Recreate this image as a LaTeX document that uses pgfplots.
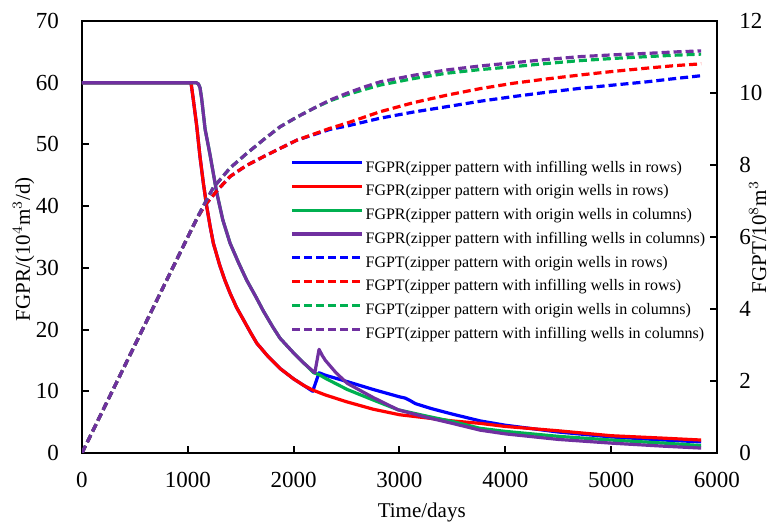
\documentclass[border=0pt]{standalone}
\usepackage{pgfplots}
\pgfplotsset{compat=1.18}
\usepackage{fontspec}
\setmainfont{Liberation Serif}
\definecolor{cblue}{RGB}{0,0,255}
\definecolor{cred}{RGB}{255,0,0}
\definecolor{cgreen}{RGB}{0,176,80}
\definecolor{cpurple}{RGB}{112,48,160}
\pgfplotsset{
  common/.style={
    scale only axis, width=317.5pt, height=216pt,
    xmin=0, xmax=6000,
    tick align=inside, major tick length=3.5pt,
    axis line style={line width=1pt}, every tick/.style={line width=1pt, black},
    /pgf/number format/assume math mode=true,
    /pgf/number format/1000 sep={},
    tick label style={font=\fontsize{11.5}{12}\selectfont},
    label style={font=\fontsize{10.5}{12}\selectfont},
  },
  solid/.style={line width=1.6pt, line join=round},
  dashedl/.style={line width=1.6pt, dash pattern=on 4pt off 2pt},
}
\begin{document}
\begin{tikzpicture}
\begin{axis}[common,
  ymin=0, ymax=70, ytick={0,10,...,70},
  xtick={0,1000,...,6000},
  xtick pos=lower, ytick pos=left,
  xticklabel style={yshift=-6pt},
  yticklabel style={xshift=-8pt},
  xlabel={Time/days},
  xlabel style={at={(axis description cs:0.535,-0.1366)}, anchor=center},
  ylabel={FGPR/(10$^{4}$m$^{3}$/d)},
  ylabel style={at={(axis description cs:-0.092,0.472)}, anchor=center},
  legend style={at={(axis description cs:0.3276,0.682)}, anchor=north west,
    draw=none, fill=none, inner sep=0pt, row sep=2.8pt,
    nodes={inner sep=1pt}, font=\fontsize{8}{9}\selectfont},
  legend cell align=left,
  legend image code/.code={\draw[#1] (0pt,2.6pt) -- (35pt,2.6pt);},
]
% FGPR infilling rows (blue)
\addplot[cblue, solid] coordinates {
(0,60) (1030,60) (1050,57.5) (1084,53) (1115,48) (1147,43.7) (1178,40) (1210,36.8) (1241,34) (1300,30.5) (1350,28) (1399,25.9) (1460,23.6) (1525,21.6) (1590,19.6) (1651,17.8) (1760,15.6) (1871,13.7) (2000,12.0) (2100,10.9) (2180,10.0)
(2240,13.0) (2300,12.6) (2500,11.6) (2750,10.3) (3000,9.1) (3053,8.9) (3100,8.5) (3150,8.0) (3300,7.2) (3500,6.3) (3762,5.2) (4000,4.5) (4500,3.4) (5000,2.6) (5500,2.1) (5850,1.8)};
\addlegendentry{FGPR(zipper pattern with infilling wells in rows)}
% FGPR origin rows (red)
\addplot[cred, solid] coordinates {
(0,60) (1030,60) (1050,57.5) (1084,53) (1115,48) (1147,43.7) (1178,40) (1210,36.8) (1241,34) (1300,30.5) (1350,28) (1399,25.9) (1460,23.6) (1525,21.6) (1590,19.6) (1651,17.8) (1760,15.6) (1871,13.7) (2000,12.0) (2100,10.9) (2180,10.2)
(2300,9.4) (2500,8.3) (2750,7.1) (3000,6.2) (3250,5.7) (3500,5.2) (3762,4.8) (4000,4.3) (4500,3.6) (5000,2.8) (5500,2.4) (5850,2.1)};
\addlegendentry{FGPR(zipper pattern with origin wells in rows)}
% FGPR origin columns (green)
\addplot[cgreen, solid] coordinates {
(0,60) (1080,60) (1100,59.8) (1115,59.2) (1130,57.5) (1163,52.5) (1210,48.3) (1241,45.3) (1273,42.2) (1330,37.8) (1399,34) (1480,30.8) (1556,28) (1640,25.4) (1714,23.0) (1800,20.5) (1871,18.6) (2000,16.2) (2100,14.5) (2190,13.0)
(2240,12.7) (2300,12.1) (2505,10.3) (2750,8.6) (2987,7.0) (3250,6.0) (3500,5.1) (3762,4.0) (4000,3.5) (4500,2.7) (5000,2.1) (5500,1.6) (5850,1.2)};
\addlegendentry{FGPR(zipper pattern with origin wells in columns)}
% FGPR infilling columns (purple)
\addplot[cpurple, solid] coordinates {
(0,60) (1080,60) (1100,59.8) (1115,59.2) (1130,57.5) (1163,52.5) (1210,48.3) (1241,45.3) (1273,42.2) (1330,37.8) (1399,34) (1480,30.8) (1556,28) (1640,25.4) (1714,23.0) (1800,20.5) (1871,18.6) (2000,16.2) (2100,14.5) (2200,13.0)
(2240,16.8) (2270,15.8) (2300,15.0) (2400,13.0) (2505,11.3) (2750,9.0) (2987,7.0) (3250,5.8) (3500,4.8) (3762,3.7) (4000,3.1) (4500,2.2) (5000,1.6) (5500,1.1) (5850,0.8)};
\addlegendentry{FGPR(zipper pattern with infilling wells in columns)}
\addlegendimage{cblue, dashedl}
\addlegendentry{FGPT(zipper pattern with origin wells in rows)}
\addlegendimage{cred, dashedl}
\addlegendentry{FGPT(zipper pattern with infilling wells in rows)}
\addlegendimage{cgreen, dashedl}
\addlegendentry{FGPT(zipper pattern with origin wells in columns)}
\addlegendimage{cpurple, dashedl}
\addlegendentry{FGPT(zipper pattern with infilling wells in columns)}
\end{axis}
\begin{axis}[common,
  ymin=0, ymax=12, ytick={0,2,...,12},
  axis x line=none, axis y line*=right,
  yticklabel style={xshift=7.7pt},
  ylabel={FGPT/10$^{8}$m$^{3}$},
  ylabel style={at={(axis description cs:1.064,0.5)}, anchor=center},
]
\addplot[cblue, dashedl] coordinates {
(0,0) (1030,6.18) (1084,6.5) (1130,6.73) (1178,6.94) (1280,7.3) (1399,7.68) (1550,7.98) (1714,8.23) (1871,8.46) (2030,8.69) (2344,8.99) (2500,9.08) (2817,9.30) (3130,9.47) (3447,9.62) (3760,9.77) (4074,9.90) (4390,10.02) (4707,10.13) (5020,10.22) (5337,10.31) (5600,10.40) (5850,10.48)};
\addplot[cred, dashedl] coordinates {
(0,0) (1030,6.18) (1084,6.5) (1130,6.73) (1178,6.94) (1280,7.3) (1399,7.68) (1550,7.98) (1714,8.23) (1871,8.46) (2030,8.69) (2344,9.02) (2500,9.16) (2817,9.48) (3130,9.73) (3447,9.94) (3760,10.12) (4074,10.27) (4390,10.39) (4707,10.50) (5020,10.60) (5337,10.69) (5600,10.76) (5850,10.81)};
\addplot[cgreen, dashedl] coordinates {
(0,0) (1100,6.6) (1150,6.88) (1240,7.37) (1400,7.92) (1556,8.32) (1714,8.70) (1871,9.06) (2030,9.33) (2186,9.57) (2340,9.78) (2500,9.95) (2660,10.09) (2817,10.22) (3130,10.40) (3447,10.55) (3760,10.65) (4074,10.73) (4390,10.82) (4707,10.90) (5020,10.96) (5337,11.01) (5600,11.05) (5850,11.08)};
\addplot[cpurple, dashedl] coordinates {
(0,0) (1100,6.6) (1150,6.88) (1240,7.37) (1400,7.92) (1556,8.32) (1714,8.70) (1871,9.06) (2030,9.33) (2186,9.57) (2340,9.80) (2500,9.99) (2660,10.16) (2817,10.31) (3130,10.49) (3447,10.64) (3760,10.75) (4074,10.84) (4390,10.93) (4707,11.01) (5020,11.06) (5337,11.10) (5600,11.14) (5850,11.17)};
\end{axis}
\pgfresetboundingbox
\path (-41pt,-35pt) rectangle (344.5pt,226.5pt);
\end{tikzpicture}
\end{document}
